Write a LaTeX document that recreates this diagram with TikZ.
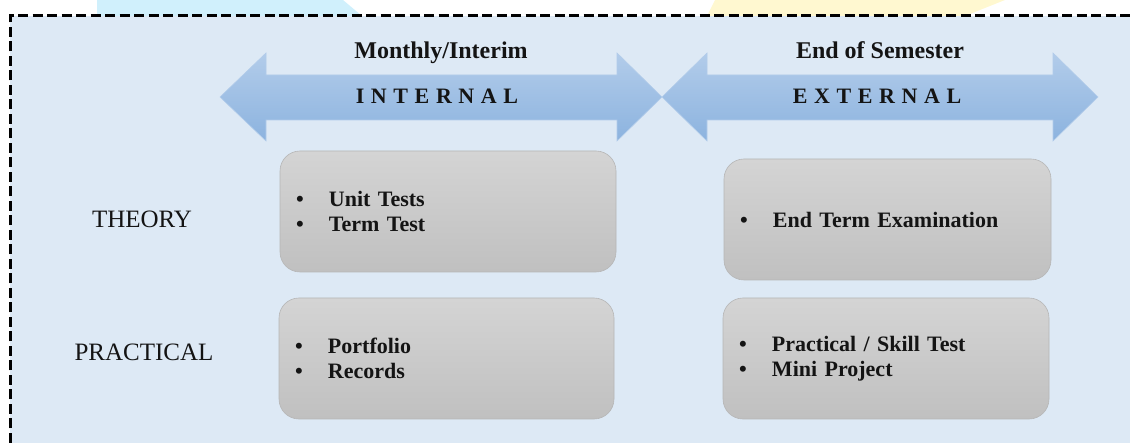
\documentclass[tikz,border=0pt]{standalone}
\usepackage{fontspec}
\setmainfont{Liberation Serif}
\usetikzlibrary{shadings}

\definecolor{pagebg}{RGB}{221,233,245}
\definecolor{arrowtop}{RGB}{178,204,234}
\definecolor{arrowbot}{RGB}{140,179,223}
\definecolor{boxtop}{RGB}{212,212,212}
\definecolor{boxbot}{RGB}{192,192,192}
\definecolor{boxline}{RGB}{182,182,182}
\definecolor{inktext}{RGB}{20,20,20}
\definecolor{capcyan}{RGB}{208,240,252}
\definecolor{capyellow}{RGB}{255,248,208}

\newcommand{\bul}[1]{\makebox[33pt][l]{\textbullet}#1}

\tikzset{
  bigarrow/.style={top color=arrowtop, bottom color=arrowbot, draw=arrowtop, line width=0.6pt},
  itembox/.style={draw=boxline, line width=0.6pt, rounded corners=20pt,
    top color=boxtop, bottom color=boxbot, minimum height=121pt,
    inner xsep=16pt, align=left, text=inktext,
    font=\fontsize{22}{25.5}\selectfont\bfseries},
  rowlabel/.style={text=inktext, font=\fontsize{25}{29}\selectfont},
  hdr/.style={text=inktext, anchor=base, font=\fontsize{24}{28}\selectfont\bfseries},
  spaced/.style={text=inktext, anchor=base,
    font=\fontsize{22}{26}\selectfont\bfseries\addfontfeature{LetterSpace=30}}
}

\begin{document}
\begin{tikzpicture}[x=1pt, y=-1pt]
  \useasboundingbox (0,0) rectangle (1130,443);

  % faint shapes above the frame
  \fill[capcyan] (97,0) -- (343,0) -- (362,16) -- (97,16) -- cycle;
  \fill[capyellow] (715,0) -- (1005,0) -- (965,16) -- (707,16) -- cycle;

  % frame
  \fill[pagebg] (10,16) rectangle (1130,443);
  \draw[line width=3pt, dash pattern=on 10pt off 4.5pt] (10,443) -- (10,16) -- (1130,16);

  % arrows
  \path[bigarrow] (220,97) -- (266,53) -- (266,75) -- (617,75) -- (617,53) -- (662,97)
    -- (617,141) -- (617,120) -- (266,120) -- (266,141) -- cycle;
  \path[bigarrow] (662,97) -- (707,53) -- (707,75) -- (1053,75) -- (1053,53) -- (1098,97)
    -- (1053,141) -- (1053,120) -- (707,120) -- (707,141) -- cycle;

  \node[hdr] (inthead) at (441,59) {Monthly/Interim};
  \node[hdr] (exthead) at (880,59) {End of Semester};
  \node[spaced] (intname) at (437,104) {INTERNAL};
  \node[spaced] (extname) at (877,104) {EXTERNAL};

  % rows
  \node[rowlabel] (theory) at (142,219) {THEORY};
  \node[rowlabel] (practical) at (144,352) {PRACTICAL};

  \node[itembox, text width=304pt] (inttheory) at (448,211.5)
    {\bul{Unit Tests}\\ \bul{Term Test}};
  \node[itembox, text width=295pt] (exttheory) at (887.5,219.5)
    {\bul{End Term Examination}};
  \node[itembox, text width=303pt] (intprac) at (446.5,358.5)
    {\bul{Portfolio}\\ \bul{Records}};
  \node[itembox, text width=294pt] (extprac) at (886,358.5)
    {\bul{Practical / Skill Test}\\ \bul{Mini Project}};
\end{tikzpicture}
\end{document}
